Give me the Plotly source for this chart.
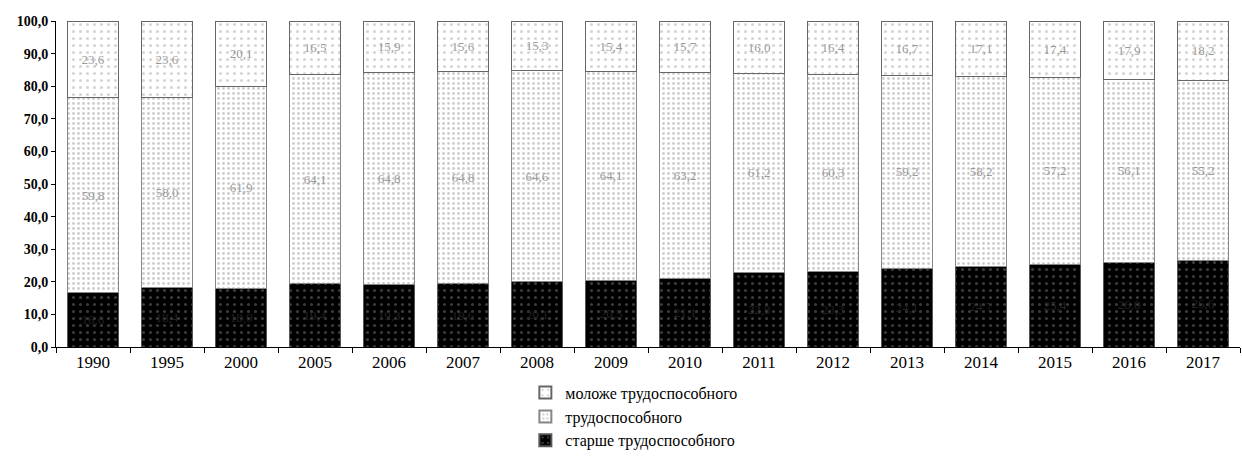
import plotly.graph_objects as go

years = ["1990", "1995", "2000", "2005", "2006", "2007", "2008", "2009",
         "2010", "2011", "2012", "2013", "2014", "2015", "2016", "2017"]

# Age structure of the population, % of total
younger = [23.6, 23.6, 20.1, 16.5, 15.9, 15.6, 15.3, 15.4,
           15.7, 16.0, 16.4, 16.7, 17.1, 17.4, 17.9, 18.2]
working = [59.8, 58.0, 61.9, 64.1, 64.8, 64.8, 64.6, 64.1,
           63.2, 61.2, 60.3, 59.2, 58.2, 57.2, 56.1, 55.2]
older = [16.6, 18.4, 18.0, 19.4, 19.3, 19.6, 20.1, 20.5,
         21.1, 22.8, 23.3, 24.1, 24.7, 25.4, 26.0, 26.6]

names = ["старше трудоспособного", "трудоспособного", "моложе трудоспособного"]

serif = "Liberation Serif, Times New Roman, serif"

fig = go.Figure()

fig.add_trace(go.Bar(
    x=years, y=older, name=names[0],
    marker=dict(color="#000000", line=dict(color="#555555", width=1),
                pattern=dict(shape=".", fgcolor="#777777", bgcolor="#000000",
                             size=7, solidity=0.15)),
    text=[f"{v:.1f}".replace(".", ",") for v in older],
    textposition="inside", insidetextanchor="middle",
    textfont=dict(family=serif, size=13, color="#222222"),
))
fig.add_trace(go.Bar(
    x=years, y=working, name=names[1],
    marker=dict(color="#ffffff", line=dict(color="#888888", width=1),
                pattern=dict(shape=".", fgcolor="#9a9a9a", bgcolor="#ffffff",
                             size=5, solidity=0.25)),
    text=[f"{v:.1f}".replace(".", ",") for v in working],
    textposition="inside", insidetextanchor="middle",
    textfont=dict(family=serif, size=13, color="#9a9a9a"),
))
fig.add_trace(go.Bar(
    x=years, y=younger, name=names[2],
    marker=dict(color="#ffffff", line=dict(color="#666666", width=1),
                pattern=dict(shape=".", fgcolor="#aaaaaa", bgcolor="#ffffff",
                             size=7, solidity=0.15)),
    text=[f"{v:.1f}".replace(".", ",") for v in younger],
    textposition="inside", insidetextanchor="middle",
    textfont=dict(family=serif, size=13, color="#9a9a9a"),
))

fig.update_layout(
    barmode="stack",
    bargap=0.3,
    width=1242, height=461,
    margin=dict(l=56, r=2, t=21, b=114, autoexpand=False),
    paper_bgcolor="white", plot_bgcolor="white",
    separators=", ",
    font=dict(family=serif, size=13, color="#000000"),
    uniformtext=dict(mode="show", minsize=11),
    legend=dict(
        orientation="v", traceorder="reversed",
        x=0.423, xanchor="left", y=0.185, yanchor="top",
        xref="container", yref="container",
        font=dict(family=serif, size=16, color="#000000"),
        itemsizing="constant", itemwidth=30, tracegroupgap=0,
        bgcolor="rgba(0,0,0,0)",
    ),
    xaxis=dict(
        type="category", showline=True, linecolor="#000000", linewidth=1,
        ticks="outside", tickson="boundaries", ticklen=5, tickcolor="#000000",
        tickfont=dict(family=serif, size=17, color="#000000"),
        showgrid=False, automargin=False,
    ),
    yaxis=dict(
        range=[0, 100], dtick=10, tickformat=".1f",
        showline=True, linecolor="#000000", linewidth=1,
        ticks="outside", ticklen=4, tickcolor="#000000",
        tickfont=dict(family="Liberation Serif", size=14, color="#000000",
                      weight="bold"),
        showgrid=False, zeroline=False, automargin=False,
    ),
)

fig.write_html("out.html")
